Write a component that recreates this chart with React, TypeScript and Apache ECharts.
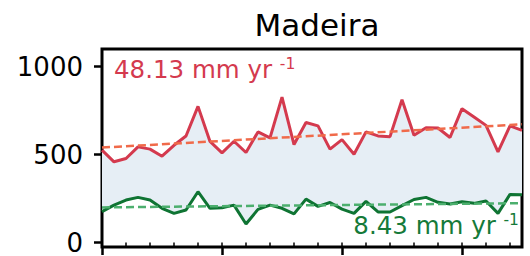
import React, { useEffect, useRef } from "react";
import * as echarts from "echarts";

const years = Array.from({ length: 36 }, (_, i) => 1980 + i);
const redValues = [525, 459, 478, 544, 531, 491, 553, 606, 774, 575, 510, 576, 512, 629, 595, 827, 557, 682, 663, 531, 585, 502, 629, 606, 602, 812, 610, 653, 651, 597, 761, 714, 666, 515, 663, 638];
const greenValues = [176, 213, 242, 257, 242, 195, 166, 185, 289, 195, 198, 213, 106, 189, 213, 195, 163, 247, 206, 228, 190, 166, 234, 174, 174, 210, 245, 257, 229, 219, 232, 223, 236, 166, 274, 272];
const trendYears = [1980, 2015];
const redTrend = [540, 672];
const greenTrend = [200, 224];
const yTicks = [0, 500, 1000];
const majorYears = [1980, 1990, 2000, 2010];
const minorYears = Array.from({ length: 18 }, (_, i) => 1980 + 2 * i);
const title = "Madeira";
const redLabel = "48.13 mm yr ";
const greenLabel = "8.43 mm yr ";
const sup = "-1";

const FONT = "DejaVu Sans";
const RED = "#d43a4e";
const GREEN = "#0f7433";

export default function App() {
  const ref = useRef<HTMLDivElement>(null);
  useEffect(() => {
    const chart = echarts.init(ref.current!, null, { renderer: "svg" });
    const pairs = (xs: number[], ys: number[]) => xs.map((x, i) => [x, ys[i]]);
    const richFor = (color: string) => ({
      a: { fontFamily: FONT, fontSize: 24.5, lineHeight: 28, fill: color },
      s: { fontFamily: FONT, fontSize: 15.5, lineHeight: 15.5, fill: color, verticalAlign: "top" },
    });
    chart.setOption({
      animation: false,
      textStyle: { fontFamily: FONT },
      title: {
        text: title,
        left: 312,
        top: 4,
        textAlign: "center",
        textStyle: { fontFamily: FONT, fontSize: 31, fontWeight: "normal", color: "#000" },
      },
      grid: {
        left: 102,
        top: 49,
        width: 420,
        height: 198,
        show: true,
        borderColor: "#000",
        borderWidth: 3,
        backgroundColor: "transparent",
      },
      xAxis: [
        {
          type: "value",
          min: 1980,
          max: 2015,
          axisLine: { show: false },
          splitLine: { show: false },
          axisLabel: { show: false },
          axisTick: { show: true, customValues: minorYears, length: 5, lineStyle: { color: "#000", width: 1.5 } },
        },
        {
          type: "value",
          min: 1980,
          max: 2015,
          position: "bottom",
          axisLine: { show: false },
          splitLine: { show: false },
          axisLabel: { show: false },
          axisTick: { show: true, customValues: majorYears, length: 8, lineStyle: { color: "#000", width: 2.5 } },
        },
      ],
      yAxis: {
        type: "value",
        min: -25,
        max: 1100,
        axisLine: { show: false },
        splitLine: { show: false },
        axisTick: { show: true, customValues: yTicks, length: 8, lineStyle: { color: "#000", width: 2.5 } },
        axisLabel: {
          customValues: yTicks,
          margin: 19,
          color: "#000",
          fontFamily: FONT,
          fontSize: 26,
          lineHeight: 26,
          formatter: (v: number) => String(v),
        },
      },
      series: [
        {
          type: "custom",
          data: [[years[0], greenValues[0]]],
          silent: true,
          z: 1,
          renderItem: (params: any, api: any) => {
            const top = years.map((y, i) => api.coord([y, redValues[i]]));
            const bot = years.map((y, i) => api.coord([y, greenValues[i]])).reverse();
            return {
              type: "polygon",
              shape: { points: top.concat(bot) },
              style: { fill: "#e6eef5", stroke: "none" },
            };
          },
        },
        {
          type: "line",
          data: pairs(years, redValues),
          symbol: "none",
          lineStyle: { color: RED, width: 3 },
          z: 3,
        },
        {
          type: "line",
          data: pairs(years, greenValues),
          symbol: "none",
          lineStyle: { color: GREEN, width: 3 },
          z: 3,
        },
        {
          type: "line",
          data: pairs(trendYears, redTrend),
          symbol: "none",
          lineStyle: { color: "#f06a4a", width: 2.5, type: [8, 4] },
          z: 4,
        },
        {
          type: "line",
          data: pairs(trendYears, greenTrend),
          symbol: "none",
          lineStyle: { color: "#4caf6e", width: 2.5, type: [8, 4] },
          z: 4,
        },
      ],
      graphic: [
        {
          type: "text",
          x: 114,
          y: 55.5,
          z: 10,
          style: {
            text: `{a|${redLabel}}{s|${sup}}`,
            align: "left",
            verticalAlign: "top",
            rich: richFor(RED),
          },
        },
        {
          type: "text",
          x: 519,
          y: 211.5,
          z: 10,
          style: {
            text: `{a|${greenLabel}}{s|${sup}}`,
            align: "right",
            verticalAlign: "top",
            rich: richFor("#157a39"),
          },
        },
      ],
    });
    return () => chart.dispose();
  }, []);
  return (
    <div
      ref={ref}
      style={{ position: "absolute", left: 0, top: 0, width: 530, height: 256 }}
    />
  );
}
